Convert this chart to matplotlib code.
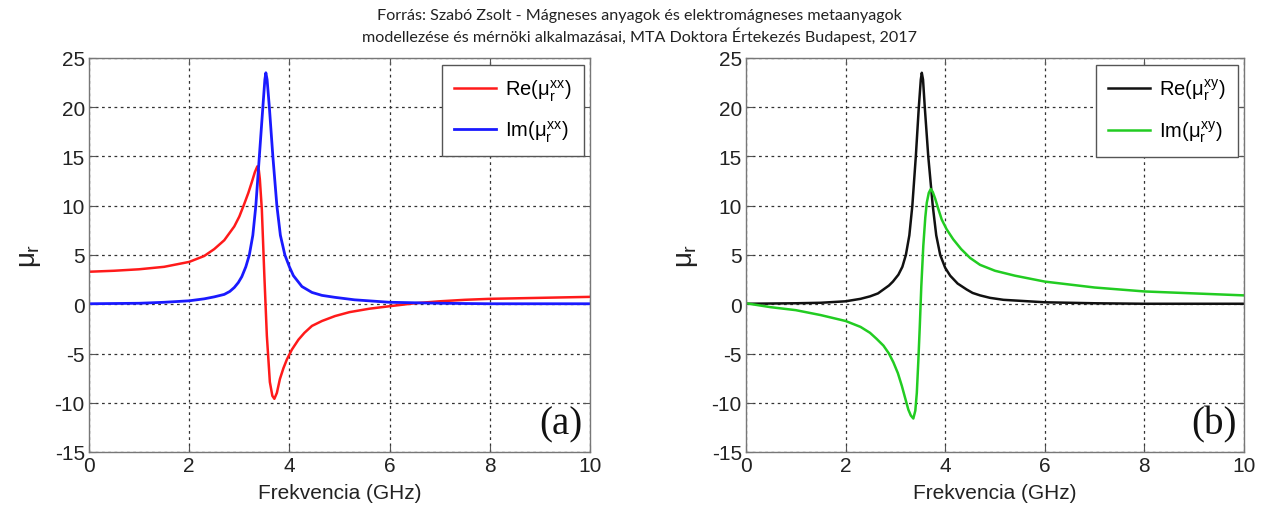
import matplotlib
matplotlib.use("Agg")
import matplotlib.pyplot as plt

plt.rcParams['font.family'] = ['Liberation Sans', 'DejaVu Sans']
plt.rcParams['mathtext.fontset'] = 'custom'
plt.rcParams['mathtext.rm'] = 'Liberation Sans'
plt.rcParams['mathtext.it'] = 'Liberation Sans'
plt.rcParams['axes.unicode_minus'] = False

# ---- data ----
f_re_xx = [0, 0.5, 1, 1.5, 2, 2.3, 2.5, 2.7, 2.9, 3.0, 3.1, 3.18, 3.25, 3.31, 3.36, 3.39, 3.41,
           3.45, 3.50, 3.55, 3.61, 3.66, 3.70, 3.75, 3.81, 3.88, 3.95, 4.05, 4.18, 4.3, 4.45,
           4.65, 4.91, 5.2, 5.6, 6.0, 6.5, 7.0, 7.5, 8, 9, 10]
re_xx = [3.3, 3.4, 3.55, 3.8, 4.3, 4.9, 5.6, 6.5, 7.9, 8.9, 10.2, 11.3, 12.4, 13.4, 14.0, 13.6, 12.7,
         9.6, 2.9, -3.2, -7.9, -9.3, -9.6, -9.0, -7.6, -6.5, -5.6, -4.6, -3.6, -2.9, -2.2,
         -1.7, -1.2, -0.8, -0.45, -0.2, 0.1, 0.3, 0.45, 0.55, 0.65, 0.75]

f_im_xx = [0, 1, 1.5, 2, 2.3, 2.5, 2.7, 2.81, 2.9, 2.98, 3.05, 3.13, 3.20, 3.27, 3.33, 3.40, 3.47,
           3.51, 3.53, 3.555, 3.60, 3.67, 3.75, 3.82, 3.91, 4.0, 4.08, 4.25, 4.45, 4.65, 4.91,
           5.3, 6.0, 7, 8, 9, 10]
im_xx = [0.05, 0.1, 0.2, 0.35, 0.55, 0.75, 1.0, 1.3, 1.7, 2.2, 2.8, 3.8, 5.0, 7.0, 10.0, 15.0, 20.0,
         22.8, 23.5, 22.8, 20.0, 15.0, 10.0, 7.0, 5.0, 3.8, 2.9, 1.8, 1.2, 0.9, 0.7,
         0.45, 0.2, 0.1, 0.05, 0.05, 0.05]

f_re_xy = [0, 1, 1.5, 2, 2.3, 2.49, 2.65, 2.76, 2.87, 2.95, 3.06, 3.14, 3.21, 3.28, 3.34, 3.41,
           3.47, 3.51, 3.53, 3.555, 3.59, 3.66, 3.75, 3.82, 3.90, 4.0, 4.10, 4.25, 4.43, 4.55,
           4.70, 4.9, 5.17, 6, 7, 8, 9, 10]
re_xy = [0.05, 0.1, 0.15, 0.3, 0.55, 0.8, 1.1, 1.5, 1.9, 2.3, 3.0, 3.8, 5.0, 7.0, 10.0, 15.0,
         20.0, 22.8, 23.5, 22.8, 20.0, 15.0, 10.0, 7.0, 5.0, 3.7, 2.9, 2.1, 1.5, 1.15,
         0.9, 0.65, 0.45, 0.2, 0.1, 0.05, 0.05, 0.05]

f_im_xy = [0, 0.5, 1, 1.5, 2, 2.3, 2.49, 2.62, 2.76, 2.87, 2.96, 3.05, 3.13, 3.20, 3.26, 3.31,
           3.36, 3.40, 3.43, 3.46, 3.49, 3.52, 3.56, 3.60, 3.63, 3.67, 3.71, 3.75, 3.80, 3.86,
           3.93, 4.03, 4.16, 4.32, 4.50, 4.70, 5.0, 5.4, 6, 7, 8, 9, 10]
im_xy = [0.1, -0.3, -0.6, -1.1, -1.7, -2.3, -2.9, -3.5, -4.2, -5.0, -5.9, -7.0, -8.3, -9.6, -10.7, -11.3,
         -11.6, -10.8, -9.0, -5.8, -2.2, 1.8, 5.9, 8.8, 10.3, 11.3, 11.7, 11.4, 10.7, 9.7,
         8.6, 7.6, 6.6, 5.6, 4.7, 4.0, 3.4, 2.9, 2.3, 1.7, 1.3, 1.1, 0.9]

x_ticks = [0, 2, 4, 6, 8, 10]
y_ticks = [-15, -10, -5, 0, 5, 10, 15, 20, 25]
x_label = 'Frekvencia (GHz)'
y_label = r'$\mu_r$'
source_text = ('Forrás: Szabó Zsolt - Mágneses anyagok és elektromágneses metaanyagok\n'
               'modellezése és mérnöki alkalmazásai, MTA Doktora Értekezés Budapest, 2017')

fig = plt.figure(figsize=(12.63, 5.10), dpi=100)
W, H = 1263, 510

def make_ax(left_px, right_px):
    top_px, bot_px = 59, 453
    ax = fig.add_axes([left_px / W, 1 - bot_px / H, (right_px - left_px) / W, (bot_px - top_px) / H])
    ax.set_xlim(0, 10)
    ax.set_ylim(-15, 25)
    ax.set_xticks(x_ticks)
    ax.set_yticks(y_ticks)
    ax.tick_params(direction='in', length=5, width=0.8, labelsize=15, top=True, right=True,
                   labelcolor='#222222', color='#555555', pad=3)
    ax.grid(True, color='#333333', linestyle=(0, (2.2, 2.8)), linewidth=0.9)
    for s in ax.spines.values():
        s.set_color('#777777')
        s.set_linewidth(1.0)
    ax.set_xlabel(x_label, fontsize=15, color='#222222', labelpad=6)
    ax.set_ylabel(y_label, fontsize=20, color='#222222', labelpad=8)
    return ax

ax1 = make_ax(89, 590)
ax1.plot(f_re_xx, re_xx, color='#ff1a1a', lw=1.8, label=r'Re($\mu_r^{xx}$)')
ax1.plot(f_im_xx, im_xx, color='#1a1aff', lw=2.0, label=r'Im($\mu_r^{xx}$)')

ax2 = make_ax(746, 1244)
ax2.plot(f_re_xy, re_xy, color='#111111', lw=1.8, label=r'Re($\mu_r^{xy}$)')
ax2.plot(f_im_xy, im_xy, color='#22cc22', lw=1.8, label=r'Im($\mu_r^{xy}$)')

for ax, tag in ((ax1, '(a)'), (ax2, '(b)')):
    leg = ax.legend(loc='upper right', bbox_to_anchor=(0.988, 0.982), fontsize=14.5,
                    handlelength=2.1, labelspacing=0.8, borderpad=0.6, handletextpad=0.45,
                    fancybox=False, framealpha=1, edgecolor='#555555', borderaxespad=0)
    leg.get_frame().set_linewidth(1.0)
    ax.text(0.985, 0.025, tag, transform=ax.transAxes, ha='right', va='bottom',
            fontsize=28, family='Liberation Serif', color='#111111')

fig.text(0.506, 0.983, source_text, ha='center', va='top', fontsize=11.6,
         family=['Lato', 'DejaVu Sans'], color='#222222', linespacing=1.35)

fig.savefig('out.png', dpi=100)
